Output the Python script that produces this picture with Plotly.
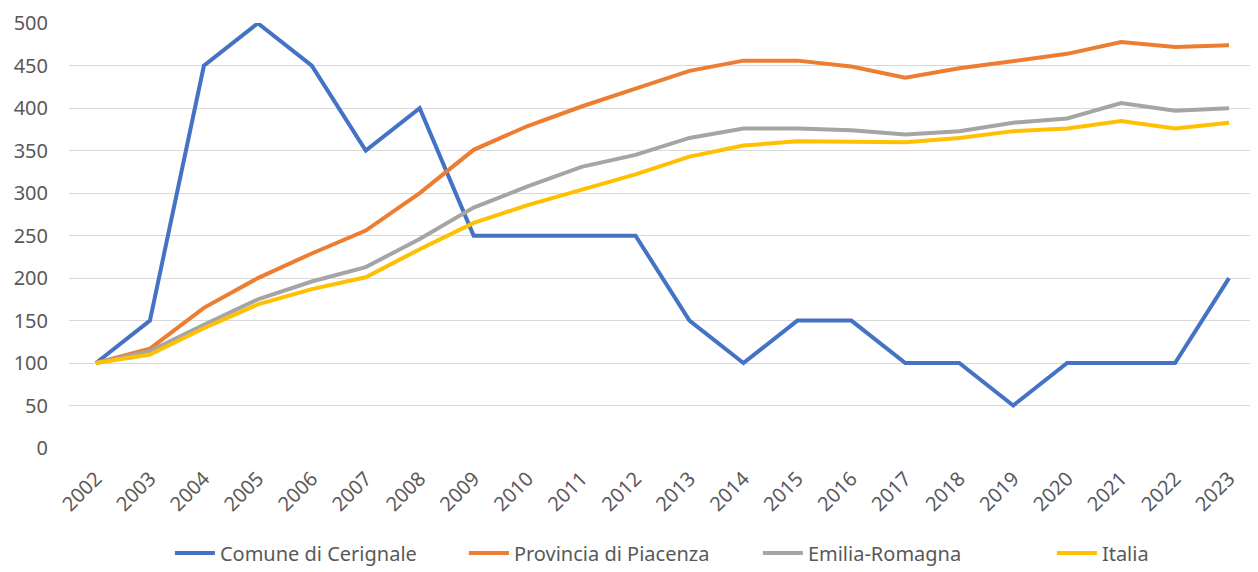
import plotly.graph_objects as go

years = [str(y) for y in range(2002, 2024)]
cerignale = [100, 150, 450, 500, 450, 350, 400, 250, 250, 250, 250, 150, 100, 150, 150, 100, 100, 50, 100, 100, 100, 200]
piacenza = [100, 117, 165, 200, 229, 256, 300, 351, 379, 402, 423, 444, 456, 456, 449, 436, 447, 456, 464, 478, 472, 474]
emilia = [100, 114, 145, 175, 196, 213, 246, 283, 308, 331, 345, 365, 376, 376, 374, 369, 373, 383, 388, 406, 397, 400]
italia = [100, 110, 141, 169, 187, 201, 234, 265, 286, 304, 322, 343, 356, 361, 361, 360, 365, 373, 376, 385, 376, 383]

series = [
    ("Comune di Cerignale", cerignale, "#4472C4"),
    ("Provincia di Piacenza", piacenza, "#ED7D31"),
    ("Emilia-Romagna", emilia, "#A5A5A5"),
    ("Italia", italia, "#FFC000"),
]

FONT = "Noto Sans"
fig = go.Figure()
for name, vals, color in series:
    fig.add_trace(go.Scatter(x=years, y=vals, name=name, mode="lines",
                             line=dict(color=color, width=4), cliponaxis=False))

fig.update_layout(
    width=1250, height=564,
    margin=dict(l=61, r=2, t=15, b=124, autoexpand=False),
    plot_bgcolor="white", paper_bgcolor="white",
    font=dict(family=FONT, size=20, color="#595959"),
    showlegend=True,
    legend=dict(orientation="h", x=0.085, xanchor="left", y=-0.247, yanchor="middle",
                font=dict(size=20, color="#595959"), itemwidth=40, tracegroupgap=0,
                entrywidth=239),
    xaxis=dict(type="category", range=[-0.5, 21.5], tickangle=-45, showgrid=False,
               showline=False, ticks="", tickfont=dict(size=20), ticklabelstandoff=14),
    yaxis=dict(range=[0, 500.3], tickvals=[0, 50, 100, 150, 200, 250, 300, 350, 400, 450, 500],
               showgrid=True, gridcolor="#D9D9D9", gridwidth=1,
               zeroline=False, showline=False, ticks="", ticklabelstandoff=20,
               ticklabeloverflow="allow", tickfont=dict(size=20)),
)
fig.write_html("out.html")
